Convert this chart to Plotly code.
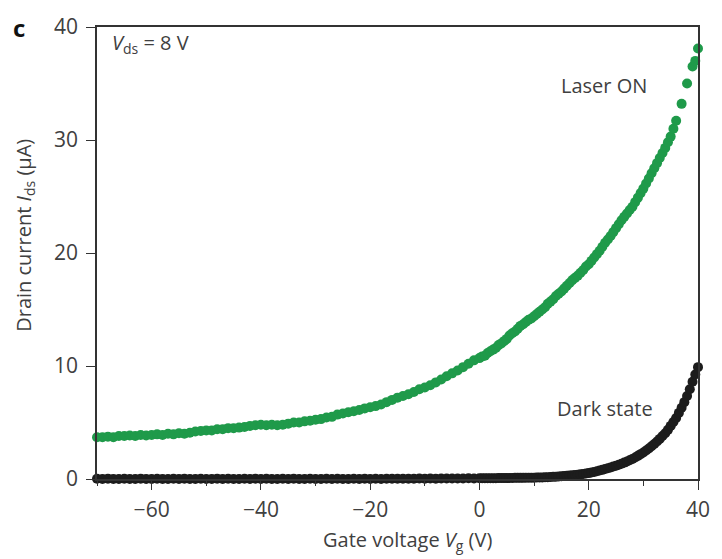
import plotly.graph_objects as go

# Gate voltage sweep for the "Laser ON" curve (V)
gate_voltage_on = [
    -70, -69, -68, -67, -66, -65, -64, -63, -62, -61,
    -60, -59, -58, -57, -56, -55, -54, -53, -52, -51,
    -50, -49, -48, -47, -46, -45, -44, -43, -42, -41,
    -40, -39, -38, -37, -36, -35, -34, -33, -32, -31,
    -30, -29, -28, -27, -26, -25, -24, -23, -22, -21,
    -20, -19, -18, -17, -16, -15, -14, -13, -12, -11,
    -10, -9, -8, -7, -6, -5, -4, -3, -2, -1,
    0, 0.5, 1, 1.5, 2, 2.5, 3, 3.5, 4, 4.5,
    5, 5.5, 6, 6.5, 7, 7.5, 8, 8.5, 9, 9.5,
    10, 10.5, 11, 11.5, 12, 12.5, 13, 13.5, 14, 14.5,
    15, 15.5, 16, 16.5, 17, 17.5, 18, 18.5, 19, 19.5,
    20, 20.5, 21, 21.5, 22, 22.5, 23, 23.5, 24, 24.5,
    25, 25.5, 26, 26.5, 27, 27.5, 28, 28.5, 29, 29.5,
    30, 30.5, 31, 31.5, 32, 32.5, 33, 33.5, 34, 34.5,
    35, 35.5, 36, 37, 38, 39, 39.5, 40,
]

# Drain current with laser on (uA)
laser_on = [
    3.70, 3.70, 3.75, 3.70, 3.80, 3.80, 3.85, 3.80, 3.90, 3.85,
    3.90, 3.95, 3.90, 4.00, 3.95, 4.05, 4.00, 4.10, 4.20, 4.25,
    4.30, 4.30, 4.40, 4.40, 4.50, 4.50, 4.55, 4.60, 4.70, 4.75,
    4.80, 4.75, 4.80, 4.75, 4.80, 4.90, 5.00, 5.00, 5.10, 5.15,
    5.25, 5.30, 5.45, 5.50, 5.70, 5.80, 5.90, 6.00, 6.10, 6.25,
    6.35, 6.45, 6.60, 6.80, 7.00, 7.20, 7.35, 7.50, 7.70, 7.95,
    8.10, 8.30, 8.55, 8.80, 9.10, 9.35, 9.60, 9.90, 10.20, 10.50,
    10.70, 10.85, 10.90, 11.15, 11.30, 11.45, 11.60, 11.85, 12.00, 12.20,
    12.40, 12.70, 12.90, 13.05, 13.30, 13.55, 13.70, 13.90, 14.10, 14.20,
    14.40, 14.60, 14.80, 15.00, 15.20, 15.50, 15.70, 15.90, 16.20, 16.40,
    16.60, 16.85, 17.10, 17.35, 17.60, 17.80, 18.00, 18.25, 18.50, 18.80,
    19.00, 19.30, 19.60, 19.90, 20.20, 20.55, 20.90, 21.20, 21.50, 21.85,
    22.20, 22.55, 22.90, 23.20, 23.50, 23.80, 24.10, 24.50, 24.90, 25.30,
    25.70, 26.15, 26.60, 27.05, 27.50, 27.95, 28.40, 28.85, 29.30, 29.80,
    30.30, 31.00, 31.70, 33.20, 35.00, 36.50, 37.00, 38.10,
]

# Gate voltage sweep for the dark-state curve (V)
gate_voltage_dark = [
    -70, -69, -68, -67, -66, -65, -64, -63, -62, -61,
    -60, -59, -58, -57, -56, -55, -54, -53, -52, -51,
    -50, -49, -48, -47, -46, -45, -44, -43, -42, -41,
    -40, -39, -38, -37, -36, -35, -34, -33, -32, -31,
    -30, -29, -28, -27, -26, -25, -24, -23, -22, -21,
    -20, -19, -18, -17, -16, -15, -14, -13, -12, -11,
    -10, -9, -8, -7, -6, -5, -4, -3, -2, -1,
    0, 0.5, 1, 1.5, 2, 2.5, 3, 3.5, 4, 4.5,
    5, 5.5, 6, 6.5, 7, 7.5, 8, 8.5, 9, 9.5,
    10, 10.5, 11, 11.5, 12, 12.5, 13, 13.5, 14, 14.5,
    15, 15.5, 16, 16.5, 17, 17.5, 18, 18.5, 19, 19.5,
    20, 20.5, 21, 21.5, 22, 22.5, 23, 23.5, 24, 24.5,
    25, 25.5, 26, 26.5, 27, 27.5, 28, 28.5, 29, 29.5,
    30, 30.5, 31, 31.5, 32, 32.5, 33, 33.5, 34, 34.5,
    35, 35.5, 36, 36.5, 37, 37.5, 38, 38.5, 39, 39.5, 40,
]

# Drain current in the dark (uA)
dark_state = [
    0.02, 0.00, 0.03, 0.01, 0.00, 0.02, 0.01, 0.00, 0.03, 0.01,
    0.00, 0.02, 0.01, 0.00, 0.02, 0.01, 0.03, 0.00, 0.01, 0.02,
    0.00, 0.01, 0.03, 0.00, 0.02, 0.01, 0.00, 0.02, 0.01, 0.03,
    0.00, 0.02, 0.01, 0.00, 0.02, 0.01, 0.03, 0.00, 0.01, 0.02,
    0.00, 0.01, 0.02, 0.00, 0.02, 0.01, 0.00, 0.02, 0.01, 0.03,
    0.01, 0.02, 0.01, 0.02, 0.03, 0.02, 0.03, 0.02, 0.03, 0.04,
    0.03, 0.04, 0.03, 0.04, 0.05, 0.04, 0.05, 0.05, 0.06, 0.05,
    0.06, 0.06, 0.06, 0.07, 0.07, 0.07, 0.07, 0.08, 0.08, 0.08,
    0.08, 0.09, 0.09, 0.10, 0.10, 0.10, 0.10, 0.11, 0.11, 0.12,
    0.12, 0.13, 0.13, 0.14, 0.15, 0.16, 0.17, 0.19, 0.20, 0.22,
    0.24, 0.26, 0.28, 0.30, 0.33, 0.35, 0.38, 0.41, 0.45, 0.48,
    0.52, 0.57, 0.62, 0.68, 0.75, 0.81, 0.88, 0.95, 1.02, 1.10,
    1.18, 1.26, 1.35, 1.45, 1.55, 1.66, 1.78, 1.91, 2.05, 2.20,
    2.35, 2.52, 2.70, 2.90, 3.10, 3.32, 3.55, 3.80, 4.05, 4.35,
    4.70, 5.05, 5.40, 5.85, 6.30, 6.80, 7.35, 7.95, 8.60, 9.25, 9.90,
]

x_tick_vals = [-60, -40, -20, 0, 20, 40]
y_tick_vals = [0, 10, 20, 30, 40]

GREEN = "#1f9a4a"
BLACK = "#1c1c1c"
TEXT = "#404040"
FONT = "Open Sans"

fig = go.Figure()
fig.add_trace(go.Scatter(
    x=gate_voltage_dark, y=dark_state, mode="markers",
    marker=dict(size=10, color=BLACK, line=dict(width=0)),
    name="Dark state", showlegend=False, cliponaxis=False,
))
fig.add_trace(go.Scatter(
    x=gate_voltage_on, y=laser_on, mode="markers",
    marker=dict(size=10, color=GREEN, line=dict(width=0)),
    name="Laser ON", showlegend=False, cliponaxis=False,
))

axis_common = dict(
    showline=True, mirror=True, linecolor="#333333", linewidth=1.5,
    showgrid=False, zeroline=False, ticks="outside", ticklen=9,
    tickwidth=1.2, tickcolor="#333333", ticklabeloverflow="allow",
    tickfont=dict(family=FONT, size=21, color=TEXT),
)

fig.update_layout(
    width=722, height=559,
    margin=dict(l=97, r=14, t=20, b=80),
    paper_bgcolor="white", plot_bgcolor="white",
    font=dict(family=FONT, color=TEXT),
    xaxis=dict(range=[-70, 40], tickvals=x_tick_vals, ticklabelstandoff=2,
               minor=dict(dtick=10, tick0=-70, ticks="outside", ticklen=5,
                          tickwidth=1.2, tickcolor="#333333"),
               **axis_common),
    yaxis=dict(range=[0, 40], tickvals=y_tick_vals, ticklabelstandoff=4,
               **axis_common),
    annotations=[
        dict(text="<b>c</b>", x=-0.129, y=1.0, xref="paper", yref="paper",
             showarrow=False, font=dict(family=FONT, size=24, color="#111111"),
             xanchor="center", yanchor="middle"),
        dict(text="Gate voltage <i>V</i><sub>g</sub> (V)", x=0.516, y=-0.136,
             xref="paper", yref="paper", showarrow=False, xanchor="center",
             yanchor="middle", font=dict(family=FONT, size=20, color=TEXT)),
        dict(text="Drain current <i>I</i><sub>ds</sub> (μA)", x=-0.12, y=0.54,
             xref="paper", yref="paper", showarrow=False, textangle=-90,
             xanchor="center", yanchor="middle",
             font=dict(family=FONT, size=20, color=TEXT)),
        dict(text="<i>V</i><sub>ds</sub> = 8 V", x=0.021, y=0.963,
             xref="paper", yref="paper", showarrow=False, xanchor="left",
             yanchor="middle", font=dict(family=FONT, size=20, color=TEXT)),
        dict(text="Laser ON", x=0.843, y=0.871, xref="paper", yref="paper",
             showarrow=False, xanchor="center", yanchor="middle",
             font=dict(family=FONT, size=20, color=TEXT)),
        dict(text="Dark state", x=0.845, y=0.155, xref="paper", yref="paper",
             showarrow=False, xanchor="center", yanchor="middle",
             font=dict(family=FONT, size=20, color=TEXT)),
    ],
)

fig.write_html("out.html")
